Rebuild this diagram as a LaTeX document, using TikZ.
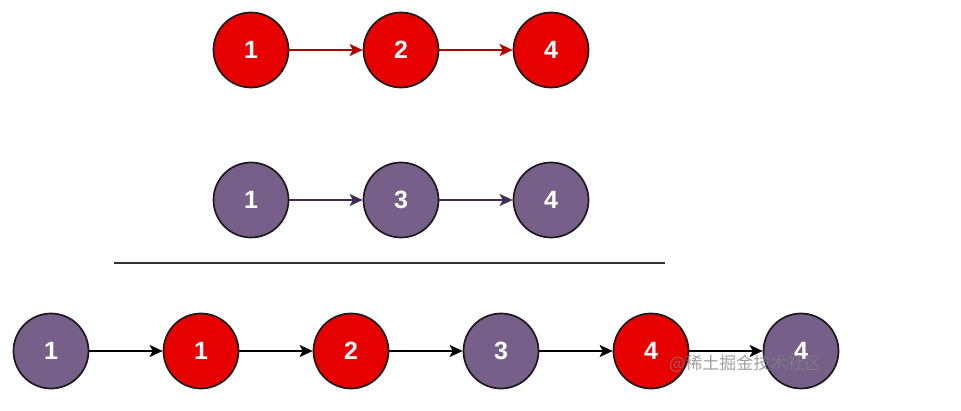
\documentclass[tikz,border=0pt]{standalone}
\usepackage{fontspec}
\setmainfont{Liberation Sans}
\newfontfamily\cjk{Noto Sans CJK SC}
\usepackage{xcolor}
\usetikzlibrary{arrows.meta,positioning}
\definecolor{NodeRed}{HTML}{E60000}
\definecolor{NodePurple}{HTML}{76608A}
\definecolor{EdgeRed}{HTML}{B20000}
\definecolor{EdgePurple}{HTML}{432D57}
\definecolor{Ink}{HTML}{1A1A1A}
\tikzset{
  item/.style={circle,draw=Ink,line width=1.7pt,minimum size=75pt,inner sep=0pt,
    text=white,font=\fontsize{25}{25}\selectfont\bfseries},
  link/.style={line width=1.5pt,-{Stealth[length=13pt,width=12pt,inset=3pt]}},
}
\begin{document}
\begin{tikzpicture}[x=1pt,y=-1pt]
\useasboundingbox (0,0) rectangle (961,411);
% first list
\foreach \v [count=\i] in {1,2,4}
  \node[item,fill=NodeRed] (a\i) at ({101+150*\i},50) {\v};
\foreach \i/\j in {1/2,2/3} \draw[link,EdgeRed] (a\i)--(a\j);
% second list
\foreach \v [count=\i] in {1,3,4}
  \node[item,fill=NodePurple] (b\i) at ({101+150*\i},200) {\v};
\foreach \i/\j in {1/2,2/3} \draw[link,EdgePurple] (b\i)--(b\j);
% rule
\draw[Ink!90,line width=2pt] (114,263)--(665,263);
% merged list
\foreach \v/\c [count=\i] in {1/NodePurple,1/NodeRed,2/NodeRed,3/NodePurple,4/NodeRed,4/NodePurple}
  \node[item,fill=\c] (m\i) at ({-99+150*\i},351) {\v};
\foreach \i/\j in {1/2,2/3,3/4,4/5,5/6} \draw[link,black] (m\i)--(m\j);
\node[anchor=west,inner sep=0pt,text=gray,opacity=0.75,font=\cjk\fontsize{17}{17}\selectfont] (mark) at (669,364) {@稀土掘金技术社区};
\end{tikzpicture}
\end{document}
